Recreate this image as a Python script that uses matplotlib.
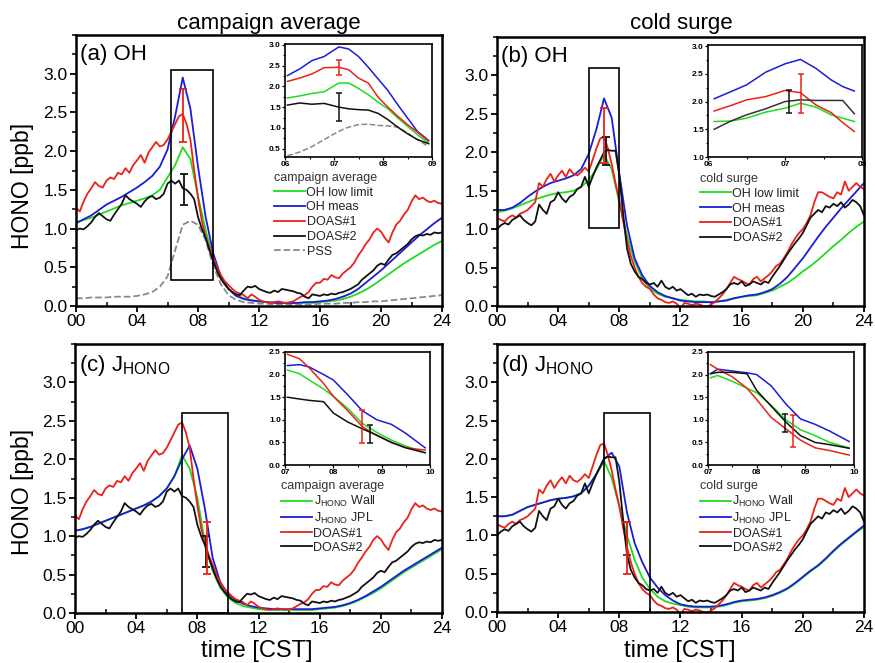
import numpy as np
import matplotlib
matplotlib.use('Agg')
import matplotlib.pyplot as plt
from matplotlib.patches import Rectangle
from matplotlib.lines import Line2D
from matplotlib.ticker import MultipleLocator

plt.rcParams['font.family'] = ['Liberation Sans', 'DejaVu Sans']

W, H = 875, 663

GREEN = '#1fdc1f'
BLUE = '#1c1cd8'
RED = '#ea2218'
BLACK = '#111111'
GREY = '#8a8a8a'

# ---------------- data ----------------
# DOAS series on a quarter-hour grid, model series on a half-hour grid
t_q = np.arange(0, 24.01, 0.25)
t_h = np.arange(0, 24.01, 0.5)

doas1_avg = [1.27, 1.22, 1.35, 1.45, 1.52, 1.60, 1.55, 1.53, 1.62, 1.66, 1.64, 1.72,
             1.70, 1.78, 1.72, 1.82, 1.88, 1.95, 1.85, 1.98, 2.05, 2.12, 2.06, 2.08,
             2.15, 2.25, 2.35, 2.45, 2.48, 2.35, 2.15, 1.75, 1.40, 1.10, 0.90, 0.75,
             0.63, 0.50, 0.40, 0.32, 0.27, 0.22, 0.18, 0.16, 0.14, 0.10, 0.15, 0.12,
             0.08, 0.06, 0.05, 0.04, 0.05, 0.06, 0.05, 0.04, 0.05, 0.06, 0.09, 0.12,
             0.14, 0.18, 0.25, 0.30, 0.30, 0.35, 0.34, 0.40, 0.37, 0.36, 0.42, 0.46,
             0.50, 0.56, 0.65, 0.72, 0.80, 0.86, 0.95, 1.00, 0.96, 0.88, 0.82, 0.95,
             1.05, 1.10, 1.18, 1.24, 1.35, 1.43, 1.38, 1.40, 1.36, 1.34, 1.36, 1.33,
             1.32]
doas2_avg = [0.98, 1.00, 0.99, 1.03, 1.08, 1.15, 1.20, 1.16, 1.12, 1.10, 1.18, 1.25,
             1.32, 1.43, 1.38, 1.35, 1.32, 1.28, 1.35, 1.40, 1.42, 1.38, 1.40, 1.45,
             1.58, 1.62, 1.58, 1.62, 1.52, 1.50, 1.45, 1.38, 1.15, 1.00, 0.88, 0.72,
             0.58, 0.45, 0.35, 0.28, 0.22, 0.18, 0.15, 0.14, 0.20, 0.25, 0.24, 0.26,
             0.22, 0.20, 0.18, 0.17, 0.20, 0.18, 0.22, 0.21, 0.20, 0.19, 0.17, 0.16,
             0.12, 0.10, 0.15, 0.14, 0.13, 0.15, 0.14, 0.16, 0.15, 0.17, 0.18, 0.20,
             0.22, 0.25, 0.28, 0.34, 0.38, 0.42, 0.46, 0.52, 0.55, 0.53, 0.60, 0.66,
             0.68, 0.72, 0.76, 0.80, 0.86, 0.90, 0.92, 0.91, 0.93, 0.92, 0.95, 0.94,
             0.95]
doas1_cold = [1.15, 1.12, 1.10, 1.15, 1.18, 1.15, 1.20, 1.22, 1.25, 1.30, 1.35, 1.60,
              1.55, 1.65, 1.72, 1.62, 1.70, 1.76, 1.68, 1.78, 1.72, 1.70, 1.74, 1.80,
              1.75, 1.90, 2.05, 2.18, 2.20, 2.05, 1.85, 1.60, 1.38, 1.10, 0.85, 0.65,
              0.50, 0.38, 0.30, 0.25, 0.22, 0.15, 0.10, 0.08, 0.05, 0.04, 0.06, 0.03,
              -0.03, 0.04, 0.03, 0.01, 0.03, 0.02, 0.00, -0.01, 0.02, 0.05, 0.10, 0.15,
              0.22, 0.30, 0.38, 0.35, 0.33, 0.30, 0.28, 0.35, 0.38, 0.32, 0.36, 0.40,
              0.45, 0.52, 0.55, 0.62, 0.70, 0.80, 0.88, 0.95, 1.00, 1.08, 1.18, 1.35,
              1.48, 1.48, 1.45, 1.42, 1.40, 1.48, 1.45, 1.62, 1.50, 1.55, 1.60, 1.55,
              1.52]
doas2_cold = [1.00, 1.05, 1.08, 1.06, 1.12, 1.15, 1.18, 1.12, 1.08, 1.05, 1.10, 1.32,
              1.25, 1.20, 1.35, 1.38, 1.48, 1.40, 1.35, 1.42, 1.45, 1.52, 1.55, 1.68,
              1.55, 1.68, 1.80, 1.90, 2.00, 2.03, 2.02, 2.02, 1.70, 1.20, 0.75, 0.55,
              0.45, 0.38, 0.35, 0.30, 0.28, 0.30, 0.25, 0.33, 0.25, 0.22, 0.25, 0.20,
              0.22, 0.18, 0.14, 0.16, 0.12, 0.15, 0.14, 0.15, 0.13, 0.12, 0.15, 0.18,
              0.22, 0.28, 0.30, 0.28, 0.32, 0.26, 0.28, 0.32, 0.30, 0.28, 0.32, 0.30,
              0.38, 0.45, 0.52, 0.60, 0.68, 0.75, 0.82, 0.88, 0.95, 1.05, 1.15, 1.20,
              1.25, 1.22, 1.30, 1.28, 1.33, 1.30, 1.35, 1.28, 1.32, 1.38, 1.35, 1.30,
              1.18]

oh_low_avg = [1.08, 1.11, 1.14, 1.18, 1.22, 1.26, 1.30, 1.33, 1.36, 1.39, 1.43, 1.50,
              1.66, 1.82, 2.05, 1.90, 1.42, 0.98, 0.62, 0.38, 0.22, 0.14, 0.10, 0.08,
              0.06, 0.05, 0.05, 0.04, 0.04, 0.04, 0.04, 0.04, 0.05, 0.06, 0.07, 0.09,
              0.12, 0.16, 0.21, 0.27, 0.34, 0.41, 0.48, 0.55, 0.61, 0.67, 0.73, 0.79,
              0.84]
oh_meas_avg = [1.07, 1.12, 1.17, 1.24, 1.31, 1.36, 1.41, 1.47, 1.53, 1.60, 1.68, 1.80,
               2.02, 2.45, 2.95, 2.55, 1.80, 1.15, 0.68, 0.38, 0.22, 0.13, 0.09, 0.07,
               0.06, 0.05, 0.04, 0.04, 0.04, 0.04, 0.05, 0.05, 0.06, 0.07, 0.09, 0.12,
               0.16, 0.22, 0.30, 0.38, 0.46, 0.55, 0.64, 0.73, 0.82, 0.91, 0.99, 1.07,
               1.14]
pss_avg = [0.10, 0.10, 0.11, 0.11, 0.11, 0.12, 0.12, 0.12, 0.13, 0.15, 0.18, 0.25,
           0.38, 0.72, 1.05, 1.10, 1.05, 0.85, 0.52, 0.28, 0.14, 0.08, 0.05, 0.04,
           0.03, 0.03, 0.02, 0.02, 0.02, 0.02, 0.02, 0.02, 0.03, 0.03, 0.03, 0.04,
           0.04, 0.05, 0.05, 0.06, 0.06, 0.07, 0.08, 0.09, 0.10, 0.11, 0.12, 0.13,
           0.14]
oh_low_cold = [1.22, 1.24, 1.27, 1.31, 1.35, 1.39, 1.42, 1.45, 1.47, 1.48, 1.50, 1.55,
               1.64, 1.78, 1.97, 1.78, 1.35, 0.92, 0.58, 0.36, 0.23, 0.16, 0.12, 0.10,
               0.08, 0.07, 0.06, 0.06, 0.05, 0.06, 0.08, 0.10, 0.12, 0.13, 0.14, 0.17,
               0.20, 0.25, 0.30, 0.37, 0.45, 0.52, 0.60, 0.69, 0.78, 0.86, 0.95, 1.03,
               1.10]
oh_meas_cold = [1.25, 1.25, 1.28, 1.34, 1.42, 1.49, 1.55, 1.60, 1.63, 1.66, 1.70, 1.78,
                1.98, 2.30, 2.70, 2.45, 1.72, 1.05, 0.62, 0.40, 0.26, 0.18, 0.13, 0.10,
                0.07, 0.06, 0.05, 0.05, 0.05, 0.06, 0.07, 0.10, 0.12, 0.14, 0.15, 0.18,
                0.22, 0.29, 0.38, 0.50, 0.62, 0.76, 0.90, 1.03, 1.15, 1.27, 1.38, 1.49,
                1.60]
j_wall_avg = [1.07, 1.09, 1.12, 1.16, 1.20, 1.24, 1.28, 1.32, 1.36, 1.40, 1.45, 1.52,
              1.62, 1.78, 2.05, 1.88, 1.50, 0.92, 0.55, 0.33, 0.20, 0.13, 0.09, 0.07,
              0.05, 0.04, 0.04, 0.04, 0.04, 0.04, 0.04, 0.04, 0.05, 0.06, 0.07, 0.09,
              0.12, 0.16, 0.21, 0.26, 0.32, 0.39, 0.46, 0.53, 0.59, 0.65, 0.71, 0.77,
              0.83]
j_jpl_avg = [1.07, 1.09, 1.12, 1.16, 1.20, 1.24, 1.28, 1.32, 1.36, 1.40, 1.45, 1.52,
             1.62, 1.78, 2.00, 2.18, 1.88, 1.35, 0.72, 0.40, 0.25, 0.17, 0.12, 0.09,
             0.07, 0.06, 0.05, 0.05, 0.05, 0.05, 0.05, 0.05, 0.06, 0.07, 0.08, 0.10,
             0.13, 0.17, 0.22, 0.28, 0.34, 0.41, 0.48, 0.55, 0.61, 0.67, 0.73, 0.79,
             0.85]
j_wall_cold = [1.25, 1.25, 1.27, 1.32, 1.37, 1.40, 1.43, 1.46, 1.48, 1.49, 1.51, 1.55,
               1.65, 1.80, 1.97, 1.75, 1.38, 1.00, 0.68, 0.45, 0.30, 0.20, 0.14, 0.11,
               0.09, 0.07, 0.06, 0.06, 0.06, 0.07, 0.09, 0.12, 0.14, 0.15, 0.16, 0.18,
               0.21, 0.25, 0.30, 0.37, 0.45, 0.53, 0.60, 0.69, 0.79, 0.88, 0.96, 1.04,
               1.11]
j_jpl_cold = [1.25, 1.25, 1.27, 1.32, 1.37, 1.40, 1.43, 1.46, 1.48, 1.49, 1.51, 1.55,
              1.65, 1.80, 2.00, 2.08, 1.90, 1.30, 0.90, 0.65, 0.45, 0.32, 0.22, 0.15,
              0.10, 0.08, 0.07, 0.07, 0.07, 0.08, 0.10, 0.13, 0.15, 0.16, 0.17, 0.19,
              0.22, 0.26, 0.31, 0.38, 0.46, 0.54, 0.61, 0.70, 0.80, 0.89, 0.97, 1.05,
              1.13]

# insets
ti_a = [6.05, 6.3, 6.55, 6.8, 7.1, 7.3, 7.5, 7.7, 7.9, 8.1, 8.3, 8.5, 8.7, 8.93]
ins_a_green = [1.72, 1.77, 1.83, 1.87, 2.08, 2.08, 1.95, 1.80, 1.62, 1.46, 1.24, 1.04, 0.84, 0.63]
ins_a_blue = [2.26, 2.42, 2.62, 2.72, 2.95, 2.90, 2.72, 2.46, 2.18, 1.90, 1.56, 1.24, 0.92, 0.70]
ins_a_red = [2.12, 2.20, 2.30, 2.45, 2.46, 2.40, 2.20, 2.08, 1.74, 1.50, 1.28, 1.08, 0.90, 0.68]
ins_a_black = [1.55, 1.60, 1.57, 1.59, 1.50, 1.46, 1.44, 1.43, 1.35, 1.20, 1.02, 0.86, 0.72, 0.62]
ins_a_pss = [0.33, 0.42, 0.55, 0.72, 0.92, 1.02, 1.08, 1.09, 1.06, 1.05, 1.02, 0.88, 0.72, 0.55]

ti_b = [6.08, 6.3, 6.5, 6.75, 7.0, 7.2, 7.4, 7.6, 7.75, 7.9]
ins_b_green = [1.64, 1.65, 1.70, 1.81, 1.88, 1.97, 1.90, 1.76, 1.70, 1.64]
ins_b_blue = [2.05, 2.18, 2.30, 2.53, 2.68, 2.76, 2.60, 2.39, 2.27, 2.19]
ins_b_red = [1.83, 1.93, 2.03, 2.09, 2.20, 2.16, 1.94, 1.80, 1.62, 1.46]
ins_b_black = [1.50, 1.65, 1.76, 1.87, 2.00, 2.03, 2.02, 2.02, 2.02, 1.78]

ti_c = [7.05, 7.3, 7.5, 7.8, 8.0, 8.3, 8.6, 8.9, 9.2, 9.5, 9.9]
ins_c_green = [2.10, 2.02, 1.88, 1.68, 1.52, 1.25, 0.92, 0.72, 0.55, 0.42, 0.27]
ins_c_blue = [2.20, 2.22, 2.17, 2.00, 1.88, 1.55, 1.20, 1.00, 0.90, 0.70, 0.38]
ins_c_red = [2.45, 2.35, 2.15, 1.80, 1.52, 1.20, 0.85, 0.65, 0.50, 0.38, 0.33]
ins_c_black = [1.50, 1.46, 1.43, 1.40, 1.15, 0.95, 0.80, 0.66, 0.50, 0.38, 0.27]

ti_d = [7.05, 7.2, 7.5, 7.8, 8.0, 8.3, 8.6, 8.9, 9.2, 9.5, 9.9]
ins_d_green = [1.93, 1.98, 1.85, 1.70, 1.60, 1.32, 1.00, 0.78, 0.65, 0.50, 0.38]
ins_d_blue = [2.02, 2.12, 2.08, 2.04, 2.00, 1.75, 1.35, 1.02, 0.90, 0.75, 0.52]
ins_d_red = [2.22, 2.12, 1.95, 1.70, 1.45, 1.05, 0.80, 0.55, 0.38, 0.32, 0.22]
ins_d_black = [2.02, 2.05, 2.05, 2.02, 1.65, 1.30, 0.95, 0.65, 0.50, 0.45, 0.37]

# error bars: (x, centre, half-length, colour)
err_a = [(7.0, 2.46, 0.34, RED), (7.1, 1.50, 0.20, BLACK)]
err_b = [(7.1, 2.02, 0.18, BLACK), (7.0, 2.22, 0.36, RED)]
err_c = [(8.55, 0.80, 0.20, BLACK), (8.6, 0.85, 0.34, RED)]
err_d = [(8.5, 0.96, 0.21, '#7a2a1a'), (8.5, 0.83, 0.34, RED)]
ins_err_a = [(7.1, 2.46, 0.18, RED), (7.1, 1.50, 0.34, BLACK)]
ins_err_b = [(7.05, 2.00, 0.20, BLACK), (7.21, 2.15, 0.35, RED)]
ins_err_c = [(8.59, 0.85, 0.36, RED), (8.76, 0.69, 0.20, BLACK)]
ins_err_d = [(8.59, 0.93, 0.19, BLACK), (8.75, 0.75, 0.35, RED)]

# zoom boxes (x0, y0, x1, y1)
box_a = (6.2, 0.33, 9.0, 3.05)
box_b = (6.0, 1.02, 8.0, 3.1)
box_c = (7.0, 0.0, 10.0, 2.6)
box_d = (7.0, 0.0, 10.0, 2.6)

hour_ticks = [0, 4, 8, 12, 16, 20, 24]
hour_labels = ['00', '04', '08', '12', '16', '20', '24']


def rect(l, t, r, b):
    return [l / W, 1 - b / H, (r - l) / W, (b - t) / H]


fig = plt.figure(figsize=(W / 100, H / 100), dpi=100)


def main_axes(pos, label, series, errs, box):
    ax = fig.add_axes(rect(*pos))
    for x, y, c, ls in series:
        ax.plot(x, y, color=c, lw=1.3, ls=ls)
    for x, y, e, c in errs:
        ax.errorbar([x], [y], yerr=[e], fmt='none', ecolor=c, elinewidth=1.3, capsize=3, capthick=1.3)
    ax.add_patch(Rectangle((box[0], box[1]), box[2] - box[0], box[3] - box[1],
                           fill=False, lw=1.2, ec='black', zorder=5))
    ax.set_xlim(0, 24)
    ax.set_ylim(0, 3.5)
    ax.set_xticks(hour_ticks)
    ax.set_xticklabels(hour_labels)
    ax.xaxis.set_minor_locator(MultipleLocator(2))
    ax.set_yticks([0, 0.5, 1.0, 1.5, 2.0, 2.5, 3.0])
    ax.yaxis.set_minor_locator(MultipleLocator(0.25))
    ax.tick_params(labelsize=12.5, width=1.3, length=4, pad=2)
    ax.tick_params(which='minor', width=1.1, length=3)
    ax.tick_params(axis='x', which='minor', direction='in')
    for s in ax.spines.values():
        s.set_linewidth(1.8)
    ax.text(0.012, 0.965, label, transform=ax.transAxes, fontsize=16, va='top', ha='left')
    return ax


def inset_axes(pos, series, errs, xlim, ylim, xticks, xlabels, yticks):
    ax = fig.add_axes(rect(*pos))
    for x, y, c, ls in series:
        ax.plot(x, y, color=c, lw=1.1, ls=ls)
    for x, y, e, c in errs:
        ax.errorbar([x], [y], yerr=[e], fmt='none', ecolor=c, elinewidth=1.1, capsize=2, capthick=1.1)
    ax.set_xlim(*xlim)
    ax.set_ylim(*ylim)
    ax.set_xticks(xticks)
    ax.set_xticklabels(xlabels)
    ax.xaxis.set_minor_locator(MultipleLocator(0.5))
    ax.set_yticks(yticks)
    ax.yaxis.set_minor_locator(MultipleLocator(0.25))
    ax.tick_params(labelsize=6, width=0.9, length=2.5, pad=0.5)
    ax.tick_params(which='minor', length=1.5, width=0.8)
    for lab in ax.get_xticklabels() + ax.get_yticklabels():
        lab.set_fontweight('bold')
    for s in ax.spines.values():
        s.set_linewidth(1.2)
    return ax


def add_legend(ax, labels, colors, styles, title, x, y, spacing):
    handles = [Line2D([], [], color=c, lw=1.3, ls=ls) for c, ls in zip(colors, styles)]
    leg = ax.legend(handles, labels, title=title, loc='upper left',
                    bbox_to_anchor=(x / W, 1 - y / H), bbox_transform=fig.transFigure,
                    frameon=False, fontsize=9, title_fontsize=9, handlelength=2.5,
                    handletextpad=0.1, labelspacing=spacing, borderpad=0, borderaxespad=0,
                    alignment='left')
    leg.get_title().set_color('#333333')
    for t in leg.get_texts():
        t.set_color('#222222')


# (a)
ax_a = main_axes((76, 35, 442, 306), '(a) OH',
                 [(t_h, pss_avg, GREY, '--'), (t_h, oh_low_avg, GREEN, '-'),
                  (t_h, oh_meas_avg, BLUE, '-'), (t_q, doas1_avg, RED, '-'),
                  (t_q, doas2_avg, BLACK, '-')], err_a, box_a)
add_legend(ax_a, ['OH low limit', 'OH meas', 'DOAS#1', 'DOAS#2', 'PSS'],
           [GREEN, BLUE, RED, BLACK, GREY], ['-', '-', '-', '-', '--'],
           'campaign average', 274, 172, 0.22)
inset_axes((285, 44, 432, 157),
           [(ti_a, ins_a_pss, GREY, '--'), (ti_a, ins_a_green, GREEN, '-'),
            (ti_a, ins_a_blue, BLUE, '-'), (ti_a, ins_a_red, RED, '-'),
            (ti_a, ins_a_black, BLACK, '-')], ins_err_a,
           (6, 9), (0.3, 3.02), [6, 7, 8, 9], ['06', '07', '08', '09'],
           [0.5, 1.0, 1.5, 2.0, 2.5, 3.0])

# (b)
ax_b = main_axes((497, 37, 864, 306), '(b) OH',
                 [(t_h, oh_low_cold, GREEN, '-'), (t_h, oh_meas_cold, BLUE, '-'),
                  (t_q, doas1_cold, RED, '-'), (t_q, doas2_cold, BLACK, '-')], err_b, box_b)
add_legend(ax_b, ['OH low limit', 'OH meas', 'DOAS#1', 'DOAS#2'],
           [GREEN, BLUE, RED, BLACK], ['-'] * 4, 'cold surge', 700, 173, 0.22)
inset_axes((708, 45, 862, 157),
           [(ti_b, ins_b_green, GREEN, '-'), (ti_b, ins_b_blue, BLUE, '-'),
            (ti_b, ins_b_red, RED, '-'), (ti_b, ins_b_black, '#333333', '-')], ins_err_b,
           (6, 8), (1.0, 3.02), [6, 7, 8], ['06', '07', '08'],
           [1.0, 1.5, 2.0, 2.5, 3.0])

jlab_wall = r'J$_{\mathregular{HONO}}$ Wall'
jlab_jpl = r'J$_{\mathregular{HONO}}$ JPL'

# (c)
ax_c = main_axes((75, 344, 442, 613), r'(c) J$_{\mathregular{HONO}}$',
                 [(t_h, j_wall_avg, GREEN, '-'), (t_h, j_jpl_avg, BLUE, '-'),
                  (t_q, doas1_avg, RED, '-'), (t_q, doas2_avg, BLACK, '-')], err_c, box_c)
add_legend(ax_c, [jlab_wall, jlab_jpl, 'DOAS#1', 'DOAS#2'],
           [GREEN, BLUE, RED, BLACK], ['-'] * 4, 'campaign average', 281, 480, 0.15)
inset_axes((285, 352, 430, 465),
           [(ti_c, ins_c_green, GREEN, '-'), (ti_c, ins_c_blue, BLUE, '-'),
            (ti_c, ins_c_red, RED, '-'), (ti_c, ins_c_black, BLACK, '-')], ins_err_c,
           (7, 10), (0, 2.5), [7, 8, 9, 10], ['07', '08', '09', '10'],
           [0, 0.5, 1.0, 1.5, 2.0, 2.5])

# (d)
ax_d = main_axes((497, 344, 864, 612), r'(d) J$_{\mathregular{HONO}}$',
                 [(t_h, j_wall_cold, GREEN, '-'), (t_h, j_jpl_cold, BLUE, '-'),
                  (t_q, doas1_cold, RED, '-'), (t_q, doas2_cold, BLACK, '-')], err_d, box_d)
add_legend(ax_d, [jlab_wall, jlab_jpl, 'DOAS#1', 'DOAS#2'],
           [GREEN, BLUE, RED, BLACK], ['-'] * 4, 'cold surge', 700, 480, 0.15)
inset_axes((708, 352, 854, 465),
           [(ti_d, ins_d_green, GREEN, '-'), (ti_d, ins_d_blue, BLUE, '-'),
            (ti_d, ins_d_red, RED, '-'), (ti_d, ins_d_black, BLACK, '-')], ins_err_d,
           (7, 10), (0, 2.5), [7, 8, 9, 10], ['07', '08', '09', '10'],
           [0, 0.5, 1.0, 1.5, 2.0, 2.5])

# column titles and axis labels
fig.text(269 / W, 1 - 23 / H, 'campaign average', fontsize=16, ha='center', va='center')
fig.text(681 / W, 1 - 23 / H, 'cold surge', fontsize=16, ha='center', va='center')
fig.text(22 / W, 1 - 186 / H, 'HONO [ppb]', fontsize=16.5, rotation=90, ha='center', va='center')
fig.text(22 / W, 1 - 492 / H, 'HONO [ppb]', fontsize=16.5, rotation=90, ha='center', va='center')
fig.text(257 / W, 1 - 651 / H, 'time [CST]', fontsize=17, ha='center', va='center')
fig.text(680 / W, 1 - 651 / H, 'time [CST]', fontsize=17, ha='center', va='center')

fig.savefig('out.png', dpi=100)
